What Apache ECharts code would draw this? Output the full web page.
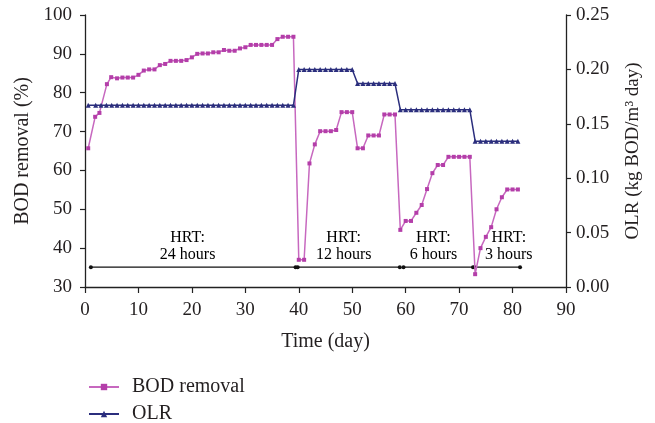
<!DOCTYPE html>
<html>
<head>
<meta charset="utf-8">
<script src="https://cdn.jsdelivr.net/npm/echarts@6/dist/echarts.min.js"></script>
<style>
  html, body { margin: 0; padding: 0; background: #fff; }
  #chart { width: 655px; height: 423px; }
</style>
</head>
<body>
<div id="chart"></div>
<script>
// 数据
var bodDays = [0.6, 1.9, 2.7, 4.1, 4.9, 6, 7, 8, 9, 10, 11, 12, 13, 14, 15, 16, 17, 18, 19, 20,
    21, 22, 23, 24, 25, 26, 27, 28, 29, 30, 31, 32, 33, 34, 35, 36, 37, 38, 39, 40,
    41, 42, 43, 44, 45, 46, 47, 48, 49, 50, 51, 52, 53, 54, 55, 56, 57, 58, 59, 60,
    61, 62, 63, 64, 65, 66, 67, 68, 69, 70, 71, 72, 73, 74, 75, 76, 77, 78, 79, 80, 81];
var bodRemoval = [65.7, 73.8, 74.8, 82.2, 84.0, 83.7, 83.9, 83.9, 83.9, 84.6, 85.7, 86.0, 86.0, 87.1, 87.4, 88.2, 88.2, 88.2, 88.4, 89.1,
    90.0, 90.1, 90.1, 90.4, 90.4, 91.0, 90.8, 90.8, 91.4, 91.7, 92.3, 92.3, 92.3, 92.3, 92.3, 93.8, 94.4, 94.4, 94.4, 37.0,
    37.0, 61.8, 66.7, 70.1, 70.1, 70.1, 70.4, 75.0, 75.0, 75.0, 65.7, 65.7, 69.0, 69.0, 69.0, 74.4, 74.4, 74.4, 44.7, 47.0,
    47.0, 49.1, 51.1, 55.2, 59.3, 61.4, 61.4, 63.5, 63.5, 63.5, 63.5, 63.5, 33.3, 40.0, 42.9, 45.4, 50.0, 53.1, 55.1, 55.1, 55.1];
var olrDays = [0.6, 2, 3, 4, 5, 6, 7, 8, 9, 10, 11, 12, 13, 14, 15, 16, 17, 18, 19, 20,
    21, 22, 23, 24, 25, 26, 27, 28, 29, 30, 31, 32, 33, 34, 35, 36, 37, 38, 39, 40,
    41, 42, 43, 44, 45, 46, 47, 48, 49, 50, 51, 52, 53, 54, 55, 56, 57, 58, 59, 60,
    61, 62, 63, 64, 65, 66, 67, 68, 69, 70, 71, 72, 73, 74, 75, 76, 77, 78, 79, 80, 81];
var olrValues = [0.167, 0.167, 0.167, 0.167, 0.167, 0.167, 0.167, 0.167, 0.167, 0.167, 0.167, 0.167, 0.167, 0.167, 0.167, 0.167, 0.167, 0.167, 0.167, 0.167,
    0.167, 0.167, 0.167, 0.167, 0.167, 0.167, 0.167, 0.167, 0.167, 0.167, 0.167, 0.167, 0.167, 0.167, 0.167, 0.167, 0.167, 0.167, 0.167, 0.200,
    0.200, 0.200, 0.200, 0.200, 0.200, 0.200, 0.200, 0.200, 0.200, 0.200, 0.187, 0.187, 0.187, 0.187, 0.187, 0.187, 0.187, 0.187, 0.163, 0.163,
    0.163, 0.163, 0.163, 0.163, 0.163, 0.163, 0.163, 0.163, 0.163, 0.163, 0.163, 0.163, 0.134, 0.134, 0.134, 0.134, 0.134, 0.134, 0.134, 0.134, 0.134];
// HRT 区间
var hrtSegments = [[1.1, 39.4], [39.8, 58.9], [59.6, 72.6], [72.9, 81.4]];
var hrtLabels = ['HRT:\n24 hours', 'HRT:\n12 hours', 'HRT:\n6 hours', 'HRT:\n3 hours'];
var hrtLabelDays = [19.2, 48.4, 65.2, 79.3];
var hrtLineLevel = 35.1;
var hrtLabelLevel = 40.4;

var FONT = '"Liberation Serif", "DejaVu Serif", serif';
var TEXT = '#231f20';

var chart = echarts.init(document.getElementById('chart'));

function pairs(xs, ys) {
    return xs.map(function (x, i) { return [x, ys[i]]; });
}

var series = [{
    name: 'BOD removal',
    type: 'line',
    yAxisIndex: 0,
    data: pairs(bodDays, bodRemoval),
    symbol: 'rect',
    symbolSize: 4,
    lineStyle: {color: '#c768bf', width: 1.5},
    itemStyle: {color: '#b43ea9'},
    z: 3
}, {
    name: 'OLR',
    type: 'line',
    yAxisIndex: 1,
    data: pairs(olrDays, olrValues),
    symbol: 'triangle',
    symbolSize: 5,
    lineStyle: {color: '#2b2e7d', width: 1.5},
    itemStyle: {color: '#2b2e7d'},
    z: 3
}];

hrtSegments.forEach(function (seg) {
    series.push({
        type: 'line',
        yAxisIndex: 0,
        data: [[seg[0], hrtLineLevel], [seg[1], hrtLineLevel]],
        symbol: 'circle',
        symbolSize: 4,
        lineStyle: {color: '#111', width: 1.3},
        itemStyle: {color: '#111'},
        silent: true,
        z: 2
    });
});

// HRT 文字
series.push({
    type: 'scatter',
    yAxisIndex: 0,
    symbolSize: 0,
    data: hrtLabelDays.map(function (d, i) {
        return {value: [d, hrtLabelLevel], label: {formatter: hrtLabels[i]}};
    }),
    label: {
        show: true,
        position: 'inside',
        fontFamily: FONT,
        fontSize: 16,
        lineHeight: 17,
        color: '#000',
        textBorderWidth: 0
    },
    itemStyle: {opacity: 1},
    silent: true
});

var legendText = {fontFamily: FONT, fontSize: 20, color: TEXT, padding: [0, 0, 0, 8]};

var option = {
    animation: false,
    textStyle: {fontFamily: FONT},
    grid: {left: 85, right: 89, top: 15, bottom: 136},
    legend: [{
        left: 83,
        top: 372,
        itemWidth: 30,
        itemHeight: 8,
        data: ['BOD removal'],
        textStyle: legendText
    }, {
        left: 83,
        top: 399,
        itemWidth: 30,
        itemHeight: 8,
        data: ['OLR'],
        textStyle: legendText
    }],
    xAxis: {
        type: 'value',
        min: 0,
        max: 90,
        interval: 10,
        name: 'Time (day)',
        nameLocation: 'middle',
        nameGap: 45,
        nameTextStyle: {fontFamily: FONT, fontSize: 20, color: TEXT},
        axisLine: {lineStyle: {color: '#222', width: 1.3}},
        axisTick: {length: 6, lineStyle: {color: '#222', width: 1.2}},
        axisLabel: {fontFamily: FONT, fontSize: 19, color: TEXT, margin: 14},
        splitLine: {show: false}
    },
    yAxis: [{
        type: 'value',
        position: 'left',
        min: 30,
        max: 100,
        interval: 10,
        name: 'BOD removal (%)',
        nameLocation: 'middle',
        nameRotate: 90,
        nameGap: 50,
        nameTextStyle: {fontFamily: FONT, fontSize: 20, color: TEXT},
        axisLine: {show: true, lineStyle: {color: '#222', width: 1.3}},
        axisTick: {show: true, length: 5, lineStyle: {color: '#222', width: 1.2}},
        axisLabel: {fontFamily: FONT, fontSize: 19, color: TEXT, margin: 13},
        splitLine: {show: false}
    }, {
        type: 'value',
        position: 'right',
        min: 0,
        max: 0.25,
        interval: 0.05,
        name: 'OLR (kg BOD/m³ day)',
        nameLocation: 'middle',
        nameRotate: 90,
        nameGap: 58,
        nameTextStyle: {fontFamily: FONT, fontSize: 19, color: TEXT},
        axisLine: {show: true, lineStyle: {color: '#222', width: 1.3}},
        axisTick: {show: true, length: 5, lineStyle: {color: '#222', width: 1.2}},
        axisLabel: {
            fontFamily: FONT, fontSize: 19, color: TEXT, margin: 10,
            formatter: function (v) { return v.toFixed(2); }
        },
        splitLine: {show: false}
    }],
    series: series
};

chart.setOption(option);
</script>
</body>
</html>
